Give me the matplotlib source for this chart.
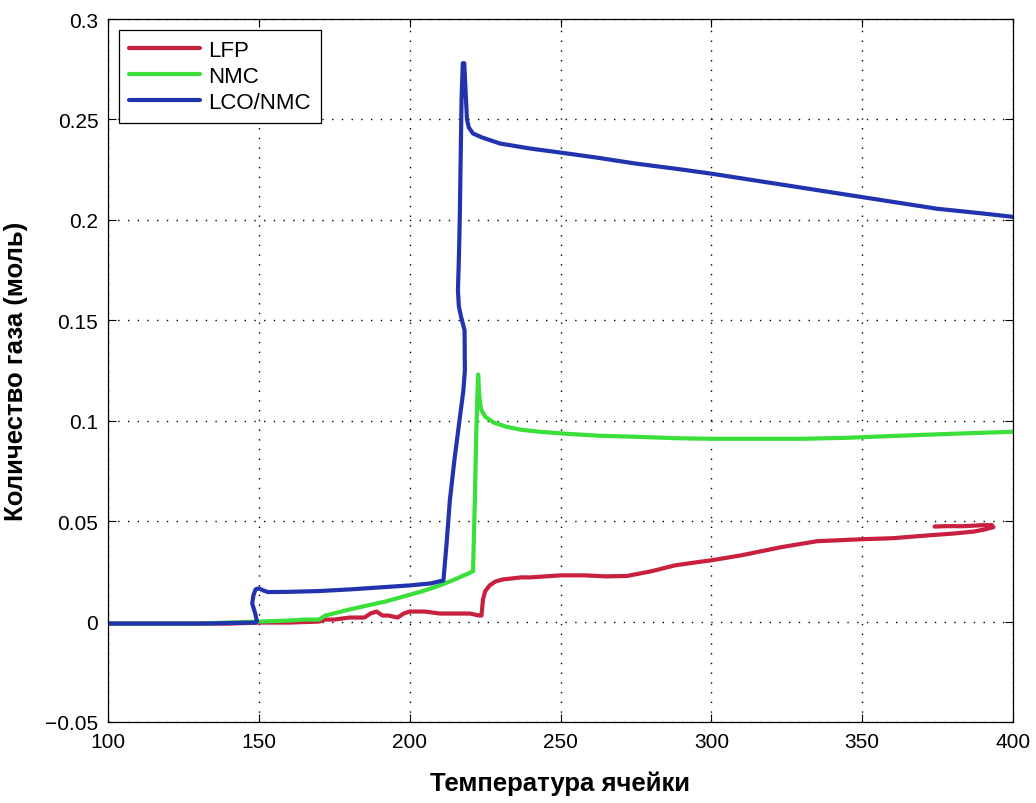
import matplotlib
matplotlib.use("Agg")
import matplotlib.pyplot as plt
from matplotlib import font_manager as fm

# ---- data ----
lfp_x = [100, 120, 140, 150, 160, 170, 172, 175, 180, 185, 187, 189, 191, 193, 196, 198, 200, 205,
         210, 215, 220, 223, 223.8, 224.3, 225, 226.5, 228.5, 231, 234, 237, 240, 245, 250, 258,
         265, 272, 280, 288, 295, 300, 310, 323, 335, 350, 360, 371, 380, 387, 391, 393.5, 393,
         390, 384, 378, 374]
lfp_y = [-0.001, -0.001, -0.001, -0.0005, -0.0005, 0.0, 0.001, 0.001, 0.002, 0.002, 0.004, 0.005,
         0.003, 0.003, 0.002, 0.004, 0.005, 0.005, 0.004, 0.004, 0.004, 0.003, 0.003, 0.011, 0.015,
         0.018, 0.020, 0.021, 0.0215, 0.022, 0.022, 0.0225, 0.023, 0.023, 0.0225, 0.0227, 0.025,
         0.028, 0.0295, 0.0305, 0.033, 0.037, 0.040, 0.041, 0.0415, 0.0428, 0.0438, 0.0448, 0.046,
         0.047, 0.048, 0.048, 0.0475, 0.0475, 0.0473]

nmc_x = [100, 130, 150, 160, 165, 170, 172, 176, 180, 186, 192, 198, 204, 210, 215, 218, 221,
         221.6, 222.1, 222.4, 222.7, 223.1, 223.6, 225, 228, 232, 237, 243, 252, 263, 275, 288,
         300, 315, 330, 345, 362, 380, 400]
nmc_y = [-0.001, -0.001, 0.0, 0.0005, 0.001, 0.001, 0.003, 0.0045, 0.006, 0.008, 0.010, 0.0125,
         0.015, 0.018, 0.021, 0.023, 0.025, 0.06, 0.095, 0.11, 0.123, 0.112, 0.106, 0.102, 0.099,
         0.097, 0.0955, 0.0945, 0.0935, 0.0925, 0.092, 0.0913, 0.091, 0.091, 0.091, 0.0915,
         0.0925, 0.0935, 0.0945]

lco_x = [100, 130, 149, 149.4, 148.8, 147.8, 148.2, 148.9, 150.0, 151.5, 153, 160, 170, 180, 190,
         200, 207, 211.2, 212.3, 213.3, 214.8, 216.5, 217.8, 218.3, 218.2, 217.0, 216.3, 216.0,
         216.3, 216.6, 216.9, 217.2, 217.6, 218.1, 218.6, 219.0, 219.6, 221, 224, 230, 240, 250,
         262, 275, 288, 300, 315, 330, 345, 360, 375, 388, 400]
lco_y = [-0.001, -0.001, -0.0005, 0.0, 0.004, 0.009, 0.013, 0.016, 0.0165, 0.0155, 0.0147,
         0.0148, 0.0152, 0.016, 0.017, 0.018, 0.019, 0.0205, 0.04, 0.06, 0.08, 0.10, 0.115, 0.125,
         0.145, 0.152, 0.157, 0.165, 0.18, 0.20, 0.23, 0.26, 0.278, 0.278, 0.262, 0.25, 0.246,
         0.243, 0.241, 0.238, 0.2355, 0.2335, 0.231, 0.228, 0.2255, 0.223, 0.2195, 0.216, 0.2125,
         0.209, 0.2055, 0.2035, 0.2015]

labels = ["LFP", "NMC", "LCO/NMC"]
colors = ["#C8203E", "#3ADF3A", "#2233B0"]
x_ticks = [100, 150, 200, 250, 300, 350, 400]
y_ticks = [-0.05, 0, 0.05, 0.1, 0.15, 0.2, 0.25, 0.3]
y_tick_labels = ["\u22120.05", "0", "0.05", "0.1", "0.15", "0.2", "0.25", "0.3"]
xlabel = "Температура ячейки"
ylabel = "Количество газа (моль)"

names = {f.name for f in fm.fontManager.ttflist}
narrow = "Liberation Sans Narrow" if "Liberation Sans Narrow" in names else "Liberation Sans"
plt.rcParams['font.family'] = ['Liberation Sans', 'DejaVu Sans']

fig = plt.figure(figsize=(10.36, 8.04), dpi=100)
ax = fig.add_axes([108/1036, 1 - 723/804, (1013-108)/1036, (723-20)/804])

for xs, ys, lab, c in zip([lfp_x, nmc_x, lco_x], [lfp_y, nmc_y, lco_y], labels, colors):
    ax.plot(xs, ys, color=c, lw=3.0, label=lab, solid_joinstyle='round', solid_capstyle='round')

ax.set_xlim(100, 400)
ax.set_ylim(-0.05, 0.3)
ax.set_xticks(x_ticks)
ax.set_xticklabels([str(t) for t in x_ticks])
ax.set_yticks(y_ticks)
ax.set_yticklabels(y_tick_labels)
ax.tick_params(direction='in', length=6, width=0.8, top=True, right=True,
               labelsize=15, pad=7, colors='black')
ax.grid(True, linestyle=(0, (1, 6)), color='black', linewidth=1.0)
for s in ax.spines.values():
    s.set_linewidth(0.9)

ax.set_xlabel(xlabel, fontsize=18.5, fontweight='bold', family=[narrow, 'DejaVu Sans'], labelpad=14)
ax.set_ylabel(ylabel, fontsize=18.5, fontweight='bold', family=[narrow, 'DejaVu Sans'], labelpad=12)

leg = ax.legend(loc='upper left', fontsize=16, handlelength=3.2, handletextpad=0.35,
                labelspacing=0.22, borderpad=0.45, borderaxespad=0.5, fancybox=False,
                framealpha=1, edgecolor='black')
leg.get_frame().set_linewidth(0.9)

fig.savefig("out.png", dpi=100)
